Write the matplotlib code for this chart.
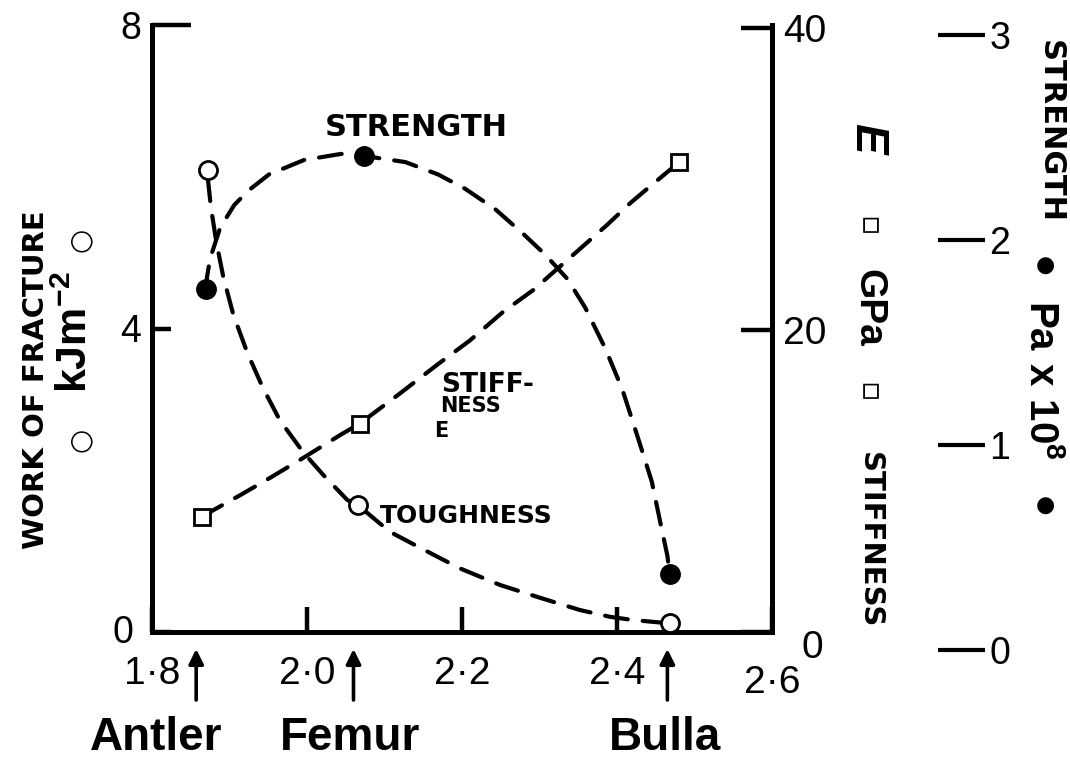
import matplotlib
matplotlib.use("Agg")
import matplotlib.pyplot as plt
import matplotlib.transforms as mtransforms

plt.rcParams['font.family'] = ['Liberation Sans', 'DejaVu Sans']
plt.rcParams['mathtext.fontset'] = 'custom'
plt.rcParams['mathtext.rm'] = 'Liberation Sans'
plt.rcParams['mathtext.bf'] = 'Liberation Sans:bold'

# specimens, where their arrows sit on the x axis and where the names go
specimens = ["Antler", "Femur", "Bulla"]
specimen_x = [1.857, 2.060, 2.465]
specimen_label_x = [1.805, 2.055, 2.462]

# measured points (Antler, Femur, Bulla)
tough_x = [1.872, 2.066, 2.468]      # work of fracture, kJ m^-2
tough_y = [6.09, 1.67, 0.12]
stiff_x = [1.865, 2.068, 2.480]      # E, GPa
stiff_y = [7.6, 13.8, 31.1]
strength_x = [1.870, 2.074, 2.468]   # Pa x 10^8
strength_y = [1.76, 2.41, 0.37]

# hand drawn dashed curves
tough_curve_x = [1.872, 1.876, 1.883, 1.892, 1.905, 1.923, 1.943, 1.965, 1.995,
                 2.021, 2.052, 2.066, 2.107, 2.146, 2.197, 2.249, 2.301, 2.352,
                 2.391, 2.419, 2.461]
tough_curve_y = [5.98, 5.60, 5.14, 4.68, 4.18, 3.68, 3.22, 2.79, 2.37,
                 2.07, 1.74, 1.67, 1.32, 1.11, 0.84, 0.62, 0.45, 0.29,
                 0.20, 0.16, 0.12]
strength_curve_x = [1.870, 1.871, 1.875, 1.888, 1.906, 1.924, 1.951, 1.996, 2.044,
                    2.074, 2.127, 2.169, 2.204, 2.243, 2.279, 2.307, 2.336, 2.359,
                    2.385, 2.407, 2.430, 2.445, 2.456, 2.465, 2.468]
strength_curve_y = [1.76, 1.82, 1.91, 2.06, 2.17, 2.24, 2.32, 2.39, 2.42,
                    2.41, 2.38, 2.32, 2.25, 2.15, 2.03, 1.93, 1.81, 1.67,
                    1.47, 1.27, 1.00, 0.82, 0.62, 0.46, 0.37]
stiff_curve_x = [1.865, 1.875, 1.914, 1.952, 1.991, 2.043, 2.068, 2.120, 2.168,
                 2.210, 2.253, 2.292, 2.324, 2.355, 2.387, 2.417, 2.447, 2.480]
stiff_curve_y = [7.6, 7.95, 9.07, 10.2, 11.4, 13.05, 13.8, 15.8, 17.7,
                 19.3, 21.2, 22.65, 24.1, 25.5, 26.95, 28.4, 29.7, 31.1]

x_ticks = [1.8, 2.0, 2.2, 2.4, 2.6]
x_ticklabels = ["1·8", "2·0", "2·2", "2·4", "2·6"]
left_ticks = [0, 4, 8]
right_ticks = [0, 20, 40]
far_ticks = [0, 1, 2, 3]

W, H = 1070, 765
fig = plt.figure(figsize=(W / 100, H / 100), dpi=100)
ax = fig.add_axes([152 / W, 1 - 632 / H, 620 / W, 607 / H])
ax2 = ax.twinx()
# the strength scale is drawn a little taller than the main box (0 sits below it)
ax3 = fig.add_axes([152 / W, 1 - 650 / H, 620 / W, 615 / H])
ax3.patch.set_visible(False)

dash = dict(ls=(0, (5.5, 3.6)), lw=3.0, color='k', dash_capstyle='round')

ax.plot(tough_curve_x, tough_curve_y, **dash)
ax.plot(tough_x, tough_y, 'o', ms=13, mfc='white', mec='k', mew=2, zorder=5)
ax2.plot(stiff_curve_x, stiff_curve_y, **dash)
ax2.plot(stiff_x, stiff_y, 's', ms=11, mfc='white', mec='k', mew=2, zorder=5)
ax3.plot(strength_curve_x, strength_curve_y, **dash)
ax3.plot(strength_x, strength_y, 'o', ms=14, mfc='k', mec='k', zorder=5)

ax.set_xlim(1.8, 2.6)
ax3.set_xlim(1.8, 2.6)
ax.set_ylim(0, 8)
ax2.set_ylim(0, 40.2)
ax3.set_ylim(0, 3)

for a in (ax, ax2, ax3):
    a.spines['top'].set_visible(False)
ax.spines['right'].set_visible(False)
for s in ('left', 'bottom'):
    ax.spines[s].set_linewidth(3.6)
for a in (ax2, ax3):
    a.spines['left'].set_visible(False)
    a.spines['bottom'].set_visible(False)
ax2.spines['right'].set_linewidth(3.6)
ax3.spines['right'].set_position(('axes', 1.3435))
ax3.spines['right'].set_visible(False)
ax3.set_xticks([])

ax.set_xticks(x_ticks)
ax.set_xticklabels(x_ticklabels)
ax.set_yticks(left_ticks)
ax.tick_params(axis='x', direction='in', length=18, width=3.2, labelsize=28, pad=17)
ax.tick_params(axis='y', direction='in', length=14, width=3.2, labelsize=27, pad=8)
ax.yaxis.get_major_ticks()[2].tick1line.set_markersize(28)

ax2.set_yticks(right_ticks)
ax2.tick_params(axis='y', direction='in', length=22, width=3.2, labelsize=28, pad=8)
ax3.yaxis.tick_right()
ax3.set_yticks(far_ticks)
ax3.tick_params(axis='y', direction='in', length=34, width=3.0, labelsize=27, pad=3)


def nudge(text, dx, dy):
    # shift a tick label by dx, dy pixels
    text.set_transform(text.get_transform() +
                       mtransforms.ScaledTranslation(dx / 100, dy / 100,
                                                     fig.dpi_scale_trans))


nudge(ax.xaxis.get_major_ticks()[-1].label1, 0, -9)
nudge(ax.yaxis.get_major_ticks()[0].label1, -8, 3)
nudge(ax2.yaxis.get_major_ticks()[0].label2, 18, -12)

# specimen arrows and names under the x axis
trans = mtransforms.blended_transform_factory(ax.transData, ax.transAxes)
for name, sx, lx in zip(specimens, specimen_x, specimen_label_x):
    ax.annotate("", xy=(sx, -0.028), xytext=(sx, -0.112), xycoords=trans,
                textcoords=trans, annotation_clip=False,
                arrowprops=dict(arrowstyle='-|>', lw=2.6, color='k',
                                mutation_scale=22, shrinkA=0, shrinkB=0))
    ax.text(lx, -0.175, name, transform=trans, ha='center', va='center',
            fontsize=33, fontweight='bold')


def px(x, y):
    return x / W, 1 - y / H


hand = dict(fontweight='bold', family=['DejaVu Sans'], ha='center', va='center')
sym = dict(ha='center', va='center', family=['DejaVu Sans'])

# left axis title
fig.text(*px(36, 380), "WORK OF FRACTURE", rotation=90, fontsize=21, **hand)
fig.text(*px(80, 240), "○", rotation=90, fontsize=20, **sym)
fig.text(*px(76, 332), "$\\mathbf{kJm^{-2}}$", rotation=90, fontsize=31,
         ha='center', va='center')
fig.text(*px(80, 440), "○", rotation=90, fontsize=20, **sym)

# right axis title
fig.text(*px(867, 138), "E", rotation=-90, fontsize=33, fontweight='bold',
         fontstyle='italic', ha='center', va='center')
fig.text(*px(868, 226), "▫", rotation=-90, fontsize=22, **sym)
fig.text(*px(868, 308), "GPa", rotation=-90, fontsize=28, fontweight='bold',
         ha='center', va='center')
fig.text(*px(868, 392), "▫", rotation=-90, fontsize=22, **sym)
fig.text(*px(870, 540), "STIFFNESS", rotation=-90, fontsize=21, **hand)

# far right axis title
fig.text(*px(1050, 132), "STRENGTH", rotation=-90, fontsize=22, **hand)
fig.text(*px(1045, 266), "●", rotation=-90, fontsize=16, **sym)
fig.text(*px(1042, 380), "$\\mathbf{Pa\\ x\\ 10^{8}}$", rotation=-90, fontsize=29,
         ha='center', va='center')
fig.text(*px(1045, 506), "●", rotation=-90, fontsize=16, **sym)

# curve labels
fig.text(*px(416, 128), "STRENGTH", fontsize=22, **hand)
fig.text(*px(488, 385), "STIFF-", fontsize=19, **hand)
fig.text(*px(470, 406), "NESS", fontsize=15, **hand)
fig.text(*px(441, 431), "E", fontsize=15, **hand)
fig.text(*px(466, 516), "TOUGHNESS", fontsize=18, **hand)

fig.savefig("out.png", dpi=100)
